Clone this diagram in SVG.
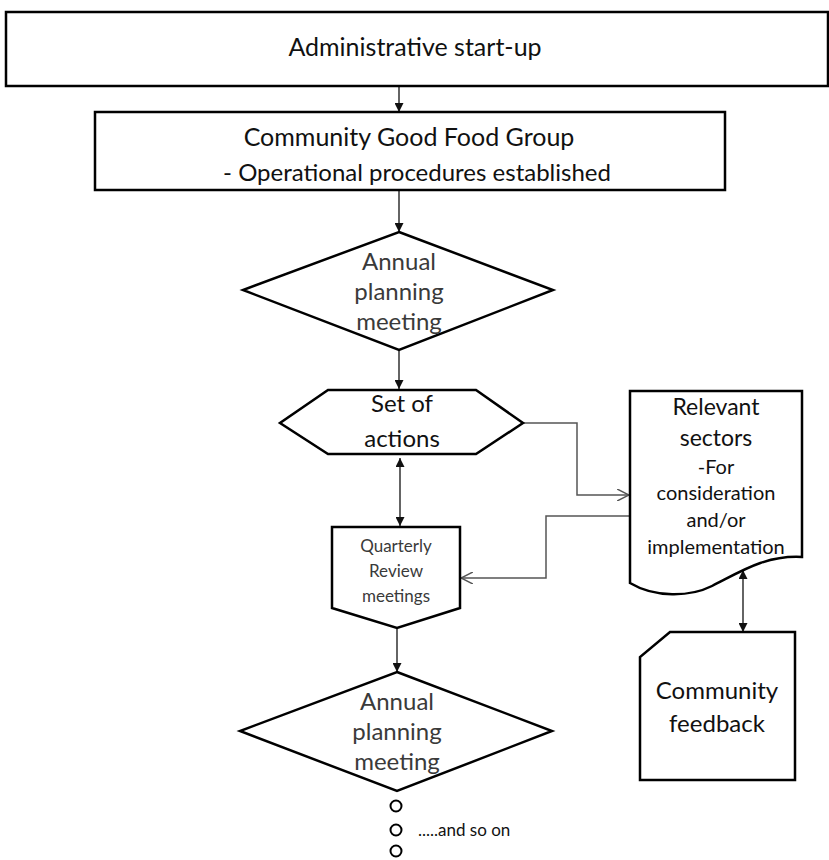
<svg xmlns="http://www.w3.org/2000/svg" width="829" height="860" viewBox="0 0 829 860">
<style>
.shape{fill:#fff;stroke:#000;stroke-width:2.5}
.t{font-family:Lato,"Open Sans","Liberation Sans",sans-serif;fill:#111;text-anchor:middle}
.g{fill:#3a3a3a}
.con{fill:none;stroke:#111;stroke-width:1.3}
.con2{fill:none;stroke:#555;stroke-width:1.5}
</style>
<defs>
<marker id="ah" viewBox="0 0 10 10" refX="10" refY="5" markerWidth="9" markerHeight="9" markerUnits="userSpaceOnUse" orient="auto-start-reverse"><path d="M0,0 L10,5 L0,10 Z" fill="#111"/></marker>
<marker id="oh" viewBox="0 0 10 10" refX="10" refY="5" markerWidth="12" markerHeight="12" markerUnits="userSpaceOnUse" orient="auto"><path d="M0,0 L10,5 L0,10" fill="none" stroke="#555" stroke-width="1.3"/></marker>
</defs>
<rect width="829" height="860" fill="#fff"/>
<g id="connectors">
<line class="con" x1="399" y1="86" x2="399" y2="112" marker-end="url(#ah)"/>
<line class="con" x1="399" y1="190" x2="399" y2="232" marker-end="url(#ah)"/>
<line class="con" x1="399" y1="350" x2="399" y2="389" marker-end="url(#ah)"/>
<line class="con" x1="400" y1="458" x2="400" y2="526" marker-start="url(#ah)" marker-end="url(#ah)"/>
<polyline class="con2" points="524,423 577,423 577,495 629,495" marker-end="url(#oh)"/>
<polyline class="con2" points="630,516 546,516 546,578 461,578" marker-end="url(#oh)"/>
<line class="con" x1="743" y1="570" x2="743" y2="632" marker-start="url(#ah)" marker-end="url(#ah)"/>
<line class="con" x1="397" y1="628" x2="397" y2="672" marker-end="url(#ah)"/>
</g>
<g id="n1">
<rect class="shape" x="6" y="12" width="822" height="74"/>
<text class="t" x="415" y="56" font-size="25">Administrative start-up</text>
</g>
<g id="n2">
<rect class="shape" x="95" y="112" width="630" height="78"/>
<text class="t" x="409" y="146" font-size="25">Community Good Food Group</text>
<text class="t" x="417" y="181" font-size="24">- Operational procedures established</text>
</g>
<g id="n3">
<polygon class="shape" points="399,232 553,290 399,350 243,290"/>
<text class="t g" x="399" y="270" font-size="24">Annual</text>
<text class="t g" x="399" y="300" font-size="24">planning</text>
<text class="t g" x="399" y="330" font-size="24">meeting</text>
</g>
<g id="n4">
<polygon class="shape" points="328,390 476,390 523,423 476,454 328,454 280,423"/>
<text class="t" x="402" y="412" font-size="24">Set of</text>
<text class="t" x="402" y="447" font-size="24">actions</text>
</g>
<g id="n5">
<path class="shape" d="M332,527 H460 V608 L397,628 L332,608 Z"/>
<text class="t g" x="396" y="552" font-size="17">Quarterly</text>
<text class="t g" x="396" y="577" font-size="17">Review</text>
<text class="t g" x="396" y="602" font-size="17">meetings</text>
</g>
<g id="n6">
<path class="shape" d="M630,391 H802 V557 C765,555 740,572 712,586 C690,597 655,598 630,583 Z"/>
<text class="t" x="716" y="415" font-size="23">Relevant</text>
<text class="t" x="716" y="446" font-size="23">sectors</text>
<text class="t" x="716" y="474" font-size="20">-For</text>
<text class="t" x="716" y="500" font-size="20">consideration</text>
<text class="t" x="716" y="527" font-size="20">and/or</text>
<text class="t" x="716" y="554" font-size="20">implementation</text>
</g>
<g id="n7">
<path class="shape" d="M670,632 H795 V780 H640 V657 Z"/>
<text class="t" x="717" y="699" font-size="24">Community</text>
<text class="t" x="717" y="732" font-size="24">feedback</text>
</g>
<g id="n8">
<polygon class="shape" points="397,672 552,731 397,791 240,731"/>
<text class="t g" x="397" y="710" font-size="24">Annual</text>
<text class="t g" x="397" y="740" font-size="24">planning</text>
<text class="t g" x="397" y="770" font-size="24">meeting</text>
</g>
<g id="n9">
<circle cx="396" cy="806" r="5.5" fill="#fff" stroke="#000" stroke-width="2"/>
<circle cx="396" cy="830" r="5.5" fill="#fff" stroke="#000" stroke-width="2"/>
<circle cx="396" cy="851" r="5.5" fill="#fff" stroke="#000" stroke-width="2"/>
<text class="t" x="418" y="836" font-size="17" style="text-anchor:start">.....and so on</text>
</g>
</svg>
